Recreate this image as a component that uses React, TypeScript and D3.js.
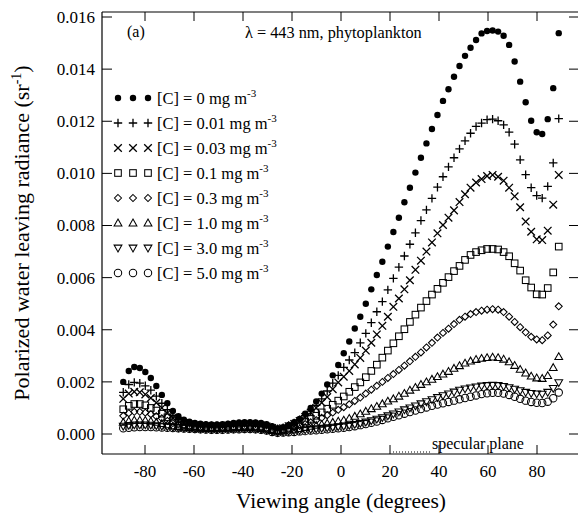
import React from "react";
import * as d3 from "d3";

// viewing angles (degrees)
const angles: number[] = d3.range(-88.875, 89, 2.25);

// polarized water leaving radiance, in units of 1e-3 sr^-1
const c0 = [
  2.0, 2.42, 2.57, 2.53, 2.38, 2.15, 1.84, 1.5, 1.18, 0.88, 0.68, 0.55, 0.47,
  0.42, 0.4, 0.38, 0.37, 0.37, 0.38, 0.4, 0.42, 0.44, 0.45, 0.45, 0.44, 0.42, 0.38, 0.3,
  0.22, 0.26, 0.35, 0.45, 0.58, 0.78, 1.0, 1.25, 1.55, 1.9, 2.25, 2.65,
  3.1, 3.55, 4.05, 4.5, 5.0, 5.55, 6.1, 6.61, 7.19, 7.75,
  8.3, 8.89, 9.45, 10.03, 10.6, 11.15, 11.7, 12.24, 12.78, 13.23,
  13.71, 14.12, 14.51, 14.82, 15.12, 15.37, 15.46, 15.48, 15.44, 15.28,
  14.93, 14.29, 13.52, 12.73, 12.02, 11.58, 11.51, 12.08, 13.27, 15.38,
];
const c001 = [
  1.6, 1.9, 1.98, 1.95, 1.85, 1.68, 1.45, 1.18, 0.93, 0.72, 0.56, 0.46, 0.4,
  0.36, 0.34, 0.33, 0.32, 0.32, 0.33, 0.35, 0.37, 0.39, 0.4, 0.4, 0.39, 0.37, 0.33, 0.26,
  0.2, 0.24, 0.33, 0.42, 0.55, 0.7, 0.88, 1.1, 1.35, 1.65, 1.95, 2.25,
  2.56, 2.84, 3.12, 3.5, 3.86, 4.27, 4.69, 5.08, 5.53, 5.97,
  6.4, 6.83, 7.28, 7.72, 8.19, 8.6, 9.04, 9.47, 9.87, 10.25,
  10.6, 10.94, 11.25, 11.54, 11.8, 11.93, 12.06, 12.08, 12.02, 11.86,
  11.58, 11.12, 10.52, 9.95, 9.45, 9.15, 9.05, 9.5, 10.4, 12.1,
];
const c003 = [
  1.35, 1.55, 1.62, 1.6, 1.52, 1.38, 1.2, 1.0, 0.8, 0.62, 0.5, 0.42, 0.37,
  0.33, 0.31, 0.3, 0.29, 0.29, 0.3, 0.32, 0.34, 0.35, 0.36, 0.36, 0.35, 0.33, 0.29, 0.23,
  0.18, 0.22, 0.3, 0.38, 0.5, 0.65, 0.82, 1.0, 1.2, 1.42, 1.72, 1.98,
  2.2, 2.42, 2.67, 2.92, 3.2, 3.5, 3.82, 4.15, 4.5, 4.88,
  5.2, 5.55, 5.9, 6.3, 6.65, 7.0, 7.35, 7.7, 8.02, 8.3,
  8.58, 8.9, 9.2, 9.45, 9.65, 9.78, 9.9, 9.94, 9.87, 9.72,
  9.45, 9.12, 8.7, 8.15, 7.76, 7.47, 7.44, 7.8, 8.8, 9.94,
];
const c01 = [
  0.95, 1.08, 1.15, 1.15, 1.1, 1.0, 0.9, 0.78, 0.64, 0.52, 0.43, 0.37, 0.33,
  0.3, 0.28, 0.27, 0.26, 0.26, 0.27, 0.28, 0.3, 0.31, 0.32, 0.32, 0.31, 0.29, 0.25, 0.19,
  0.14, 0.18, 0.24, 0.3, 0.38, 0.48, 0.58, 0.7, 0.83, 0.97, 1.12, 1.28,
  1.44, 1.62, 1.8, 1.98, 2.18, 2.42, 2.66, 2.93, 3.2, 3.48,
  3.75, 4.02, 4.3, 4.58, 4.85, 5.1, 5.35, 5.57, 5.8, 6.02,
  6.25, 6.45, 6.68, 6.87, 6.98, 7.05, 7.1, 7.1, 7.08, 6.98,
  6.82, 6.55, 6.27, 5.9, 5.62, 5.36, 5.35, 5.6, 6.2, 7.19,
];
const c03 = [
  0.7, 0.8, 0.85, 0.85, 0.82, 0.76, 0.68, 0.6, 0.5, 0.42, 0.36, 0.32, 0.29,
  0.27, 0.25, 0.24, 0.23, 0.23, 0.24, 0.25, 0.26, 0.27, 0.28, 0.28, 0.27, 0.25, 0.22, 0.16,
  0.12, 0.15, 0.2, 0.25, 0.31, 0.38, 0.45, 0.53, 0.62, 0.72, 0.82, 0.93,
  1.03, 1.14, 1.27, 1.4, 1.55, 1.7, 1.85, 2.0, 2.15, 2.3,
  2.46, 2.62, 2.79, 2.96, 3.13, 3.32, 3.5, 3.7, 3.88, 4.04,
  4.22, 4.38, 4.5, 4.6, 4.68, 4.73, 4.77, 4.79, 4.77, 4.68,
  4.5, 4.3, 4.1, 3.9, 3.73, 3.63, 3.6, 3.78, 4.2, 4.9,
];
const c10 = [
  0.45, 0.5, 0.53, 0.53, 0.52, 0.49, 0.45, 0.4, 0.35, 0.31, 0.28, 0.26, 0.24,
  0.23, 0.22, 0.21, 0.2, 0.2, 0.21, 0.22, 0.23, 0.24, 0.24, 0.24, 0.23, 0.21, 0.18, 0.13,
  0.1, 0.12, 0.15, 0.18, 0.21, 0.25, 0.29, 0.33, 0.37, 0.41, 0.45, 0.49,
  0.53, 0.6, 0.68, 0.77, 0.87, 0.97, 1.06, 1.16, 1.26, 1.35,
  1.45, 1.56, 1.68, 1.79, 1.9, 2.0, 2.1, 2.2, 2.3, 2.4,
  2.52, 2.62, 2.72, 2.8, 2.86, 2.9, 2.93, 2.95, 2.93, 2.87,
  2.77, 2.63, 2.48, 2.34, 2.22, 2.15, 2.13, 2.24, 2.55, 2.97,
];
const c30 = [
  0.3, 0.33, 0.35, 0.35, 0.35, 0.34, 0.32, 0.3, 0.28, 0.26, 0.24, 0.23, 0.22,
  0.21, 0.2, 0.19, 0.18, 0.18, 0.18, 0.19, 0.2, 0.21, 0.21, 0.21, 0.2, 0.18, 0.15, 0.1,
  0.06, 0.08, 0.1, 0.12, 0.14, 0.16, 0.18, 0.2, 0.22, 0.24, 0.26, 0.28,
  0.3, 0.33, 0.37, 0.41, 0.46, 0.51, 0.57, 0.63, 0.7, 0.77,
  0.85, 0.93, 1.0, 1.08, 1.16, 1.24, 1.32, 1.4, 1.47, 1.54,
  1.61, 1.68, 1.73, 1.77, 1.81, 1.84, 1.86, 1.87, 1.86, 1.83,
  1.78, 1.72, 1.66, 1.6, 1.56, 1.54, 1.53, 1.6, 1.75, 1.97,
];
const c50 = [
  0.22, 0.24, 0.26, 0.27, 0.27, 0.27, 0.26, 0.25, 0.24, 0.23, 0.22, 0.21, 0.2,
  0.19, 0.18, 0.17, 0.16, 0.16, 0.16, 0.17, 0.18, 0.18, 0.19, 0.19, 0.18, 0.16, 0.13, 0.08,
  0.05, 0.06, 0.07, 0.08, 0.1, 0.11, 0.13, 0.14, 0.16, 0.18, 0.2, 0.22,
  0.24, 0.27, 0.3, 0.34, 0.38, 0.43, 0.48, 0.54, 0.6, 0.66,
  0.72, 0.78, 0.84, 0.9, 0.96, 1.02, 1.08, 1.13, 1.18, 1.23,
  1.28, 1.33, 1.38, 1.43, 1.48, 1.53, 1.56, 1.58, 1.58, 1.55,
  1.5, 1.43, 1.35, 1.28, 1.23, 1.2, 1.19, 1.24, 1.37, 1.59,
];

const seriesValues = [c0, c001, c003, c01, c03, c10, c30, c50];
const concentrations = ["0", "0.01", "0.03", "0.1", "0.3", "1.0", "3.0", "5.0"];
const markerKinds = ["dot", "plus", "cross", "square", "diamond", "triangle", "triangleDown", "circle"];

const xTicks = [-80, -60, -40, -20, 0, 20, 40, 60, 80];
const yTicks = [0, 2, 4, 6, 8, 10, 12, 14, 16]; // 1e-3 units

const W = 579;
const H = 516;
const frameLeft = 102;
const frameRight = 578;
const frameTop = 12;
const frameBottom = 454;
const FONT = "'Liberation Serif', 'Times New Roman', serif";

const x = d3.scaleLinear().domain([-80, 80]).range([145, 537]);
const y = d3.scaleLinear().domain([0, 16]).range([434, 17]);

function Marker({ kind, cx, cy }: { kind: string; cx: number; cy: number }) {
  const t = `translate(${cx},${cy})`;
  const st = { fill: "none", stroke: "#000", strokeWidth: 1.05 };
  switch (kind) {
    case "dot":
      return <circle cx={cx} cy={cy} r={3.2} fill="#000" />;
    case "plus":
      return <path transform={t} d="M-4.2,0H4.2M0,-4.2V4.2" stroke="#000" strokeWidth={1.3} fill="none" />;
    case "cross":
      return <path transform={t} d="M-3.8,-3.8L3.8,3.8M-3.8,3.8L3.8,-3.8" stroke="#000" strokeWidth={1.3} fill="none" />;
    case "square":
      return <rect x={cx - 3.3} y={cy - 3.3} width={6.6} height={6.6} {...st} />;
    case "diamond":
      return <path transform={t} d="M0,-3.5L3.5,0L0,3.5L-3.5,0Z" {...st} />;
    case "triangle":
      return <path transform={t} d="M0,-3.9L3.9,2.9L-3.9,2.9Z" {...st} />;
    case "triangleDown":
      return <path transform={t} d="M0,3.9L3.9,-2.9L-3.9,-2.9Z" {...st} />;
    default:
      return <circle cx={cx} cy={cy} r={3.7} {...st} />;
  }
}

export default function App() {
  const legendY0 = 98;
  const legendStep = 25;
  return (
    <svg
      width={W}
      height={H}
      style={{ position: "absolute", left: 0, top: 0, background: "#fff" }}
      fontFamily={FONT}
    >
      <rect x={0} y={0} width={W} height={H} fill="#fff" />

      {/* frame */}
      <line x1={frameLeft} x2={frameLeft} y1={frameTop} y2={frameBottom} stroke="#000" strokeWidth={1.2} />
      <line x1={frameLeft} x2={frameRight} y1={frameTop} y2={frameTop} stroke="#000" strokeWidth={1.2} />
      <line x1={frameLeft} x2={frameRight} y1={frameBottom} y2={frameBottom} stroke="#000" strokeWidth={1.2} />

      {/* x ticks */}
      {xTicks.map((t) => (
        <g key={"xt" + t}>
          <line x1={x(t)} x2={x(t)} y1={frameBottom} y2={frameBottom - 9} stroke="#000" strokeWidth={1} />
          <line x1={x(t)} x2={x(t)} y1={frameTop} y2={frameTop + 9} stroke="#000" strokeWidth={1} />
          <text x={x(t)} y={477} fontSize={17} textAnchor="middle">
            {String(t)}
          </text>
        </g>
      ))}

      {/* y ticks */}
      {yTicks.map((t) => (
        <g key={"yt" + t}>
          <line x1={frameLeft} x2={frameLeft + 10} y1={y(t)} y2={y(t)} stroke="#000" strokeWidth={1} />
          <line x1={frameRight - 9} x2={frameRight} y1={y(t)} y2={y(t)} stroke="#000" strokeWidth={1} />
          <text x={95} y={y(t)} dy="0.35em" fontSize={17} textAnchor="end">
            {(t / 1000).toFixed(3)}
          </text>
        </g>
      ))}

      {/* axis titles */}
      <text x={341} y={508} fontSize={21.5} textAnchor="middle">
        Viewing angle (degrees)
      </text>
      <text transform="translate(29,233) rotate(-90)" fontSize={22} textAnchor="middle">
        Polarized water leaving radiance (sr
        <tspan fontSize={14} dy={-8}>-1</tspan>
        <tspan dy={8}>)</tspan>
      </text>

      {/* annotations */}
      <text x={127} y={37} fontSize={16}>(a)</text>
      <text x={245} y={38} fontSize={16.3}>λ = 443 nm, phytoplankton</text>
      <line x1={393} x2={431} y1={452} y2={452} stroke="#000" strokeWidth={1} strokeDasharray="1,2" />
      <text x={432} y={449} fontSize={16}>specular plane</text>

      {/* data */}
      {seriesValues.map((vals, si) => (
        <g key={"s" + si}>
          {vals.map((v, i) => (
            <Marker key={i} kind={markerKinds[si]} cx={x(angles[i])} cy={y(v)} />
          ))}
        </g>
      ))}

      {/* legend */}
      {concentrations.map((c, i) => {
        const ly = legendY0 + i * legendStep;
        return (
          <g key={"lg" + i}>
            {[118, 133, 148].map((lx) => (
              <Marker key={lx} kind={markerKinds[i]} cx={lx} cy={ly} />
            ))}
            <text x={157} y={ly + 5.5} fontSize={16.5}>
              [C] = {c} mg m
              <tspan fontSize={11} dy={-7}>-3</tspan>
            </text>
          </g>
        );
      })}
    </svg>
  );
}
